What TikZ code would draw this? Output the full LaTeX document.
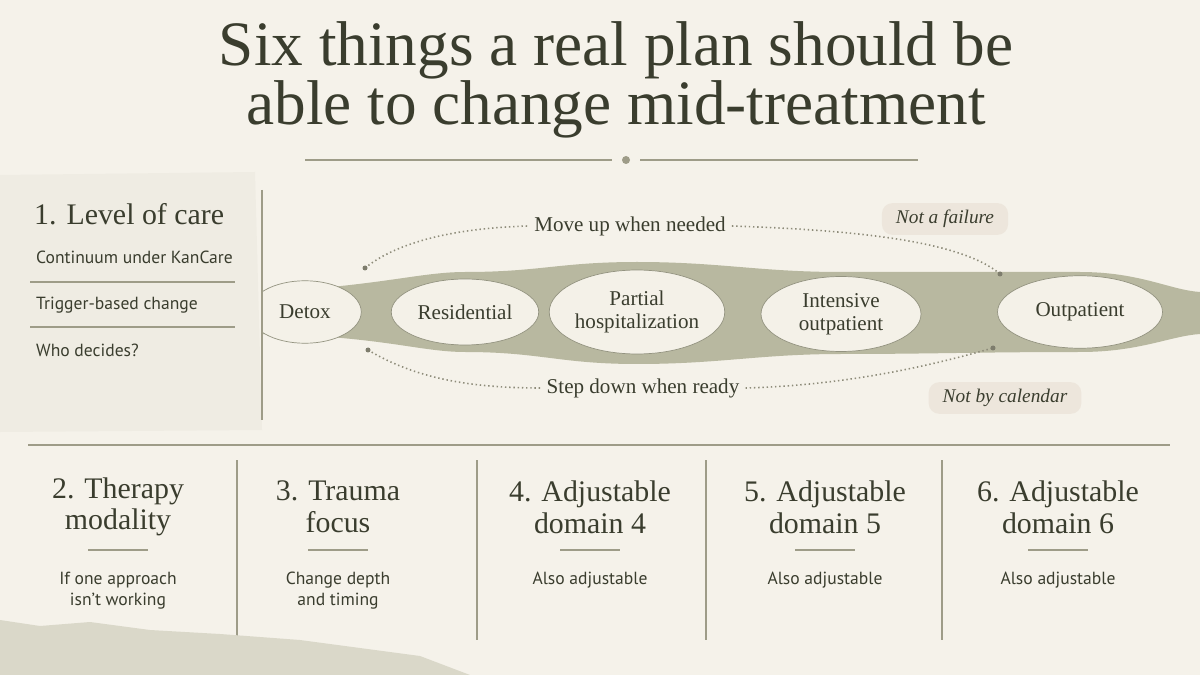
\documentclass[tikz,border=0pt]{standalone}
\usepackage{fontspec}
\setmainfont{Liberation Serif}
\setsansfont{PT Sans}
\usetikzlibrary{positioning,calc,shapes.geometric}
\definecolor{paper}{HTML}{F5F2EA}
\definecolor{panel}{HTML}{EFECE3}
\definecolor{ink}{HTML}{3A3D2E}
\definecolor{olive}{HTML}{B8B8A0}
\definecolor{pillfill}{HTML}{F4F1E8}
\definecolor{rulec}{HTML}{9E9C88}
\definecolor{tagfill}{HTML}{EDE6DC}

\begin{document}
\begin{tikzpicture}[x=0.02cm,y=-0.02cm,
  pill/.style={ellipse,fill=pillfill,draw=olive!80!black,line width=0.4pt,
    inner sep=0pt,align=center,font=\fontsize{12}{13}\selectfont\color{ink}},
  dotline/.style={draw=rulec!90!black,line width=0.9pt,dash pattern=on 0.8pt off 1.6pt},
  tag/.style={fill=tagfill,rounded corners=6pt,inner xsep=8pt,inner ysep=4pt,
    font=\fontsize{11}{12}\selectfont\itshape\color{ink}},
  item/.style={font=\sffamily\fontsize{10}{11}\selectfont\color{ink},anchor=west},
  head/.style={font=\fontsize{17}{18}\selectfont\color{ink},align=center},
  sub/.style={font=\sffamily\fontsize{10}{12}\selectfont\color{ink},align=center},
  divider/.style={draw=rulec,line width=0.8pt}]
\fill[paper] (0,0) rectangle (1200,675);
\useasboundingbox (0,0) rectangle (1200,675);

% title
\node[font=\fontsize{36}{34}\selectfont\color{ink},align=center] (title) at (616,80)
  {Six things a real plan should be\\ able to change mid-treatment};
\coordinate (tl1) at (305,160); \coordinate (tl2) at (612,160);
\coordinate (tr1) at (640,160); \coordinate (tr2) at (918,160);
\draw[divider] (tl1) -- (tl2);
\draw[divider] (tr1) -- (tr2);
\fill[rulec] (626,160) circle (4);

% left panel
\fill[panel] (0,175) -- (255,172) -- (262,430) -- (0,432) -- cycle;
\draw[divider] (262,190) -- (262,420);
\node[font=\fontsize{17}{18}\selectfont\color{ink},anchor=west] (lvl) at (28,214) {1. Level of care};
\node[item] (i1) at (30,257) {Continuum under KanCare};
\node[item] (i2) at (30,305) {Trigger-based change};
\node[item] (i3) at (30,350) {Who decides?};
\draw[divider] (30,282) -- (235,282);
\draw[divider] (30,327) -- (235,327);

% band
\begin{scope}
\clip (263,0) rectangle (1200,675);
\fill[olive] (263,292) .. controls (380,286) and (420,272) .. (465,272)
  .. controls (540,272) and (560,262) .. (637,262) .. controls (720,262) and (760,272) .. (841,272)
  .. controls (930,272) and (980,272) .. (1080,272) .. controls (1140,272) and (1170,290) .. (1200,292)
  -- (1200,334) .. controls (1170,336) and (1140,352) .. (1080,352)
  .. controls (980,352) and (930,354) .. (841,354) .. controls (760,354) and (720,364) .. (637,364)
  .. controls (560,364) and (540,352) .. (465,352) .. controls (420,352) and (380,336) .. (263,334) -- cycle;
\node[pill,minimum width=2.25cm,minimum height=1.25cm] (detox) at (305,312) {Detox};
\end{scope}
\node[pill,minimum width=2.95cm,minimum height=1.32cm] (res) at (465,312) {Residential};
\node[pill,minimum width=3.2cm,minimum height=1.68cm] (php) at (637,312) {Partial\\hospitalization};
\node[pill,minimum width=3.2cm,minimum height=1.5cm] (iop) at (841,314) {Intensive\\outpatient};
\node[pill,minimum width=3.3cm,minimum height=1.45cm] (out) at (1080,312) {Outpatient};

% up / down arrows
\node[font=\fontsize{12}{12}\selectfont\color{ink}] (up) at (630,226) {Move up when needed};
\node[font=\fontsize{12}{12}\selectfont\color{ink}] (down) at (643,388) {Step down when ready};
\coordinate (u1) at (365,268); \coordinate (u2) at (1000,274);
\coordinate (d1) at (368,350); \coordinate (d2) at (993,348);
\draw[dotline] (u1) .. controls (400,240) and (460,228) .. (up.west);
\draw[dotline] (up.east) .. controls (850,230) and (960,240) .. (u2);
\draw[dotline] (d1) .. controls (410,375) and (460,388) .. (down.west);
\draw[dotline] (down.east) .. controls (860,385) and (950,360) .. (d2);
\foreach \p in {u1,u2,d1,d2} \fill[rulec!80!black] (\p) circle (2.5);
\node[tag] (fail) at (945,219) {Not a failure};
\node[tag] (cal) at (1005,398) {Not by calendar};

% lower row
\draw[divider] (28,445) -- (1170,445);
\foreach \x in {237,477,706,942} \draw[divider] (\x,460) -- (\x,640);
\foreach \cx/\h/\s [count=\i] in {118/{2. Therapy\\modality}/{If one approach\\isn't working},
    338/{3. Trauma\\focus}/{Change depth\\and timing},
    590/{4. Adjustable\\domain 4}/{Also adjustable},
    825/{5. Adjustable\\domain 5}/{Also adjustable},
    1058/{6. Adjustable\\domain 6}/{Also adjustable}} {
  \node[head] (h\i) at (\cx,507) {\h};
  \draw[divider] (\cx-30,550) -- (\cx+30,550);
  \node[sub,anchor=north] (s\i) at (\cx,566) {\s};
}

% torn paper
\fill[olive!45!paper] (0,620) -- (40,626) -- (90,622) -- (150,630) -- (220,634) -- (300,640)
  -- (360,648) -- (420,656) -- (470,675) -- (0,675) -- cycle;
\end{tikzpicture}
\end{document}
